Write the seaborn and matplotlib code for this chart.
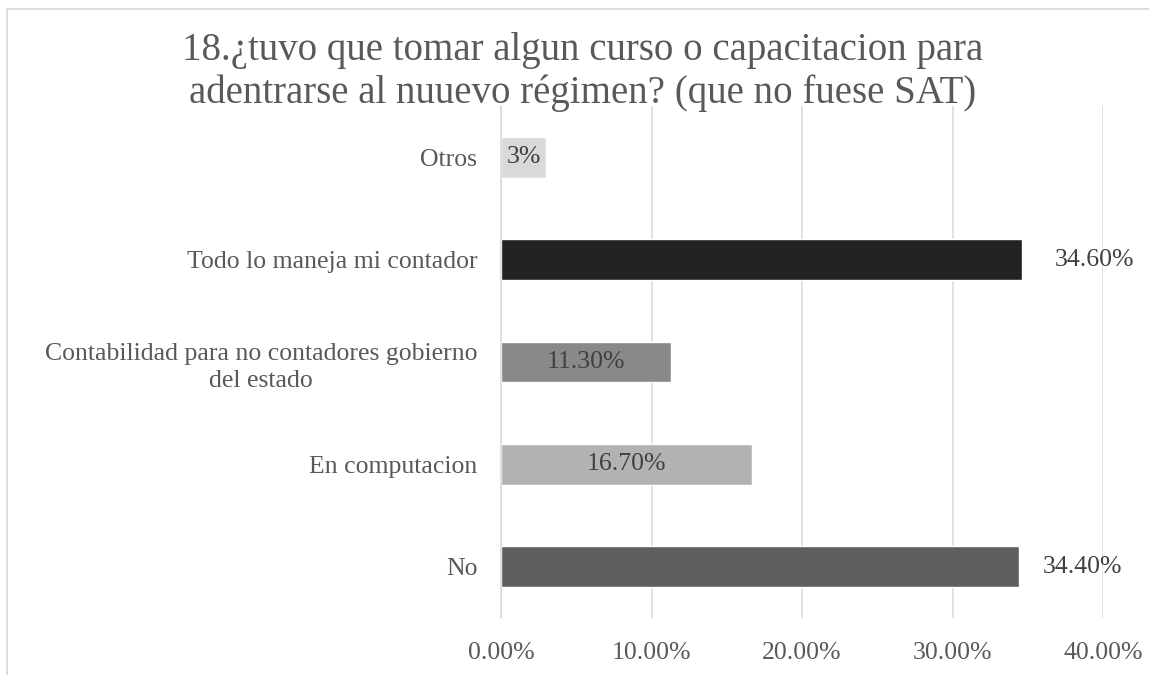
import pandas as pd
import matplotlib
matplotlib.use("Agg")
import matplotlib.pyplot as plt
import seaborn as sns
from matplotlib.patches import Rectangle
from matplotlib.ticker import FuncFormatter

sns.set_style("white")
plt.rcParams["font.family"] = ["Liberation Serif", "DejaVu Serif"]

# data (top to bottom as in the chart)
categories = [
    "Otros",
    "Todo lo maneja mi contador",
    "Contabilidad para no contadores gobierno\ndel estado",
    "En computacion",
    "No",
]
values = [3.0, 34.6, 11.3, 16.7, 34.4]
value_labels = ["3%", "34.60%", "11.30%", "16.70%", "34.40%"]
bar_colors = ["#d9d9d9", "#222222", "#898989", "#b2b2b2", "#5f5f5f"]
title = "18.¿tuvo que tomar algun curso o capacitacion para\nadentrarse al nuuevo régimen? (que no fuese SAT)"

df = pd.DataFrame({"categoria": categories, "valor": values})

fig = plt.figure(figsize=(11.49, 6.75), dpi=100)
ax = fig.add_axes([501 / 1149, 1 - 618 / 675, 602 / 1149, 512 / 675])

sns.barplot(data=df, x="valor", y="categoria", hue="categoria",
            palette=bar_colors, orient="h", width=0.4, legend=False,
            ax=ax, saturation=1)

ax.set_xlim(0, 40)
ax.set_xticks([0, 10, 20, 30, 40])
ax.xaxis.set_major_formatter(FuncFormatter(lambda v, p: f"{v:.2f}%"))
ax.grid(axis="x", color="#d9d9d9", linewidth=1.1)
ax.set_axisbelow(True)
for s in ["top", "right", "bottom"]:
    ax.spines[s].set_visible(False)
ax.spines["left"].set_color("#d9d9d9")
ax.spines["left"].set_linewidth(1.1)
ax.set_xlabel("")
ax.set_ylabel("")
ax.tick_params(axis="x", length=0, pad=17, labelsize=18.5, labelcolor="#595959")
ax.tick_params(axis="y", length=0, pad=17, labelsize=18.5, labelcolor="#595959")
for t in ax.get_yticklabels():
    t.set_multialignment("center")
    t.set_linespacing(1.35)

# data labels: centered inside for short bars, outside end for long ones
outside_pad = {1: 24, 4: 17}
for i, cont in enumerate(ax.containers):
    if i in outside_pad:
        ax.bar_label(cont, labels=[value_labels[i]], label_type="edge",
                     padding=outside_pad[i], fontsize=18.5, color="#404040")
    else:
        ax.bar_label(cont, labels=[value_labels[i]], label_type="center",
                     fontsize=18.5, color="#404040")

fig.text(583 / 1149, 1 - 72 / 675, title, ha="center", va="center",
         fontsize=28, color="#595959", linespacing=1.2)

# chart border (cut off at right and bottom)
fig.patches.append(Rectangle((7 / 1149, -0.1), 1.2, 1.1 - 9 / 675,
                             transform=fig.transFigure, fill=False,
                             edgecolor="#d9d9d9", linewidth=1.3))

plt.savefig("out.png", dpi=100)
plt.close()
